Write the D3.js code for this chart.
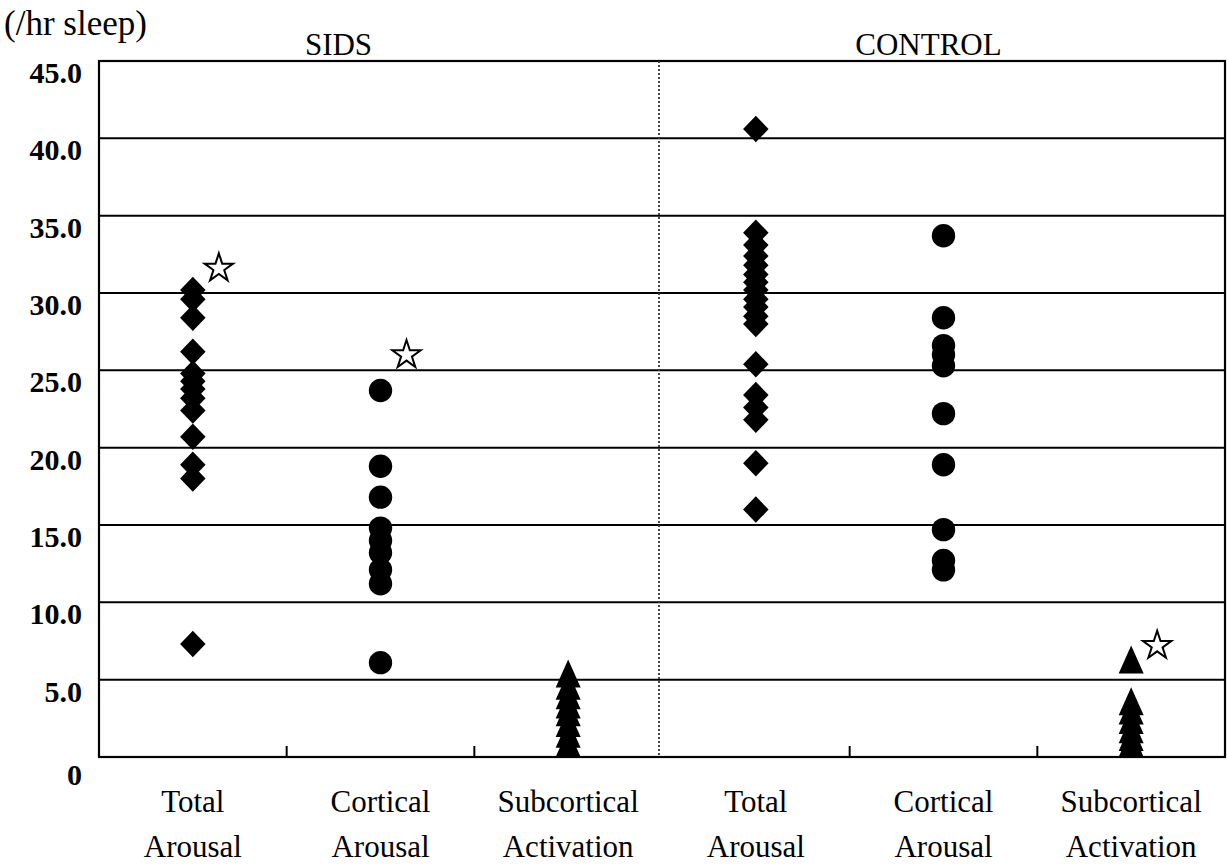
<!DOCTYPE html>
<html>
<head>
<meta charset="utf-8">
<script src="https://cdn.jsdelivr.net/npm/d3@7"></script>
<style>
  body { margin: 0; background: #fff; }
  svg text { font-family: "Liberation Serif", "Times New Roman", serif; fill: #000; }
</style>
</head>
<body>
<div id="chart"></div>
<script>
// groups and measures (x categories)
const groups = ["SIDS", "CONTROL"];
const measures = [["Total", "Arousal"], ["Cortical", "Arousal"], ["Subcortical", "Activation"]];

// y axis ticks
const yTicks = [0, 5, 10, 15, 20, 25, 30, 35, 40, 45];
const yTickLabels = ["0", "5.0", "10.0", "15.0", "20.0", "25.0", "30.0", "35.0", "40.0", "45.0"];

// values (/hr sleep)
const sidsTotal = [30.2, 29.6, 28.4, 26.2, 24.8, 24.3, 23.8, 23.2, 22.4, 20.7, 18.9, 18.0, 7.3];
const sidsCortical = [23.7, 18.8, 16.8, 14.8, 14.0, 13.2, 12.1, 11.2, 6.1];
const sidsSubcortical = [5.4, 4.6, 4.0, 3.4, 2.9, 2.2, 1.5, 0.9];
const controlTotal = [40.6, 33.9, 33.1, 32.4, 31.8, 31.2, 30.7, 30.2, 29.6, 29.1, 28.5, 28.0, 25.4, 23.4, 22.6, 21.8, 19.0, 16.0];
const controlCortical = [33.7, 28.4, 26.6, 26.0, 25.3, 22.2, 18.9, 14.7, 12.7, 12.1];
const controlSubcortical = [6.3, 3.6, 3.0, 2.4, 1.8, 1.3, 0.9];

// significance stars: group, measure index, value
const starGroups = ["SIDS", "SIDS", "CONTROL"];
const starMeasures = [0, 1, 2];
const starValues = [31.6, 26.0, 7.2];

const W = 1228, H = 865;
const m = { left: 99, right: 1225, top: 61, bottom: 757 };

const svg = d3.select('#chart').append('svg')
  .attr('width', W).attr('height', H);

const cats = [];
groups.forEach(g => measures.forEach((d, i) => cats.push(g + i)));

const x = d3.scaleBand().domain(cats).range([m.left, m.right]);
const y = d3.scaleLinear().domain([0, 45]).range([m.bottom, m.top]);

// gridlines
svg.append('g')
  .selectAll('line')
  .data(yTicks.filter(t => t > 0 && t < 45))
  .join('line')
  .attr('x1', m.left).attr('x2', m.right)
  .attr('y1', d => y(d)).attr('y2', d => y(d))
  .attr('stroke', '#000').attr('stroke-width', 2);

// frame
svg.append('rect')
  .attr('x', m.left).attr('y', y(45))
  .attr('width', m.right - m.left).attr('height', y(0) - y(45))
  .attr('fill', 'none').attr('stroke', '#000').attr('stroke-width', 2.2);

// dotted divider between the groups
const divX = x(cats[3]) - 3;
svg.append('line')
  .attr('x1', divX).attr('x2', divX)
  .attr('y1', y(45)).attr('y2', y(0))
  .attr('stroke', '#333').attr('stroke-width', 1.8)
  .attr('stroke-dasharray', '2,2');

// x ticks (inside, pointing up)
svg.append('g')
  .selectAll('line')
  .data(cats.slice(1).filter((c, i) => i !== 2))
  .join('line')
  .attr('x1', d => x(d)).attr('x2', d => x(d))
  .attr('y1', y(0)).attr('y2', y(0) - 11)
  .attr('stroke', '#000').attr('stroke-width', 2);

// y tick labels
svg.append('g')
  .selectAll('text')
  .data(yTicks)
  .join('text')
  .attr('x', 82)
  .attr('y', d => y(d) + (d === 0 ? 28 : 22))
  .attr('text-anchor', 'end')
  .attr('font-size', 30)
  .attr('font-weight', 'bold')
  .text((d, i) => yTickLabels[i]);

// unit label
svg.append('text')
  .attr('x', 4).attr('y', 35)
  .attr('font-size', 35)
  .text('(/hr sleep)');

// group titles
groups.forEach((g, gi) => {
  const c0 = x(cats[gi * 3]);
  const c1 = x(cats[gi * 3 + 2]) + x.bandwidth();
  svg.append('text')
    .attr('x', gi === 0 ? (c0 + c1) / 2 - 42 : (c0 + c1) / 2 - 15)
    .attr('y', 55)
    .attr('text-anchor', 'middle')
    .attr('font-size', 31)
    .text(g);
});

// category labels (two lines)
const catLabels = svg.append('g')
  .selectAll('text')
  .data(cats)
  .join('text')
  .attr('text-anchor', 'middle')
  .attr('font-size', 31);
catLabels.append('tspan')
  .attr('x', d => x(d) + x.bandwidth() / 2)
  .attr('y', 812)
  .text((d, i) => measures[i % 3][0]);
catLabels.append('tspan')
  .attr('x', d => x(d) + x.bandwidth() / 2)
  .attr('y', 857)
  .text((d, i) => measures[i % 3][1]);

// marker shapes
const diamond = {
  draw(ctx, size) {
    const r = Math.sqrt(size) / 2;
    ctx.moveTo(0, -r * 1.04);
    ctx.lineTo(r, 0);
    ctx.lineTo(0, r * 1.04);
    ctx.lineTo(-r, 0);
    ctx.closePath();
  }
};
const tallTriangle = {
  draw(ctx, size) {
    const w = Math.sqrt(size);
    const h = w * 1.12;
    ctx.moveTo(0, -h / 2);
    ctx.lineTo(w / 2, h / 2);
    ctx.lineTo(-w / 2, h / 2);
    ctx.closePath();
  }
};

const series = [
  { cat: cats[0], values: sidsTotal, shape: diamond, size: 650 },
  { cat: cats[1], values: sidsCortical, shape: d3.symbolCircle, size: 430 },
  { cat: cats[2], values: sidsSubcortical, shape: tallTriangle, size: 625 },
  { cat: cats[3], values: controlTotal, shape: diamond, size: 650 },
  { cat: cats[4], values: controlCortical, shape: d3.symbolCircle, size: 430 },
  { cat: cats[5], values: controlSubcortical, shape: tallTriangle, size: 625 }
];

series.forEach(s => {
  const sym = d3.symbol().type(s.shape).size(s.size);
  const cx = x(s.cat) + x.bandwidth() / 2;
  svg.append('g')
    .selectAll('path')
    .data(s.values)
    .join('path')
    .attr('transform', d => `translate(${cx},${y(d)})`)
    .attr('d', sym)
    .attr('fill', '#000');
});

// open stars
const star = d3.symbol().type(d3.symbolStar).size(250);
svg.append('g')
  .selectAll('path')
  .data(starValues)
  .join('path')
  .attr('transform', (d, i) => {
    const c = starGroups[i] + starMeasures[i];
    return `translate(${x(c) + x.bandwidth() / 2 + 26},${y(d)})`;
  })
  .attr('d', star)
  .attr('fill', '#fff')
  .attr('stroke', '#000')
  .attr('stroke-width', 2);
</script>
</body>
</html>
